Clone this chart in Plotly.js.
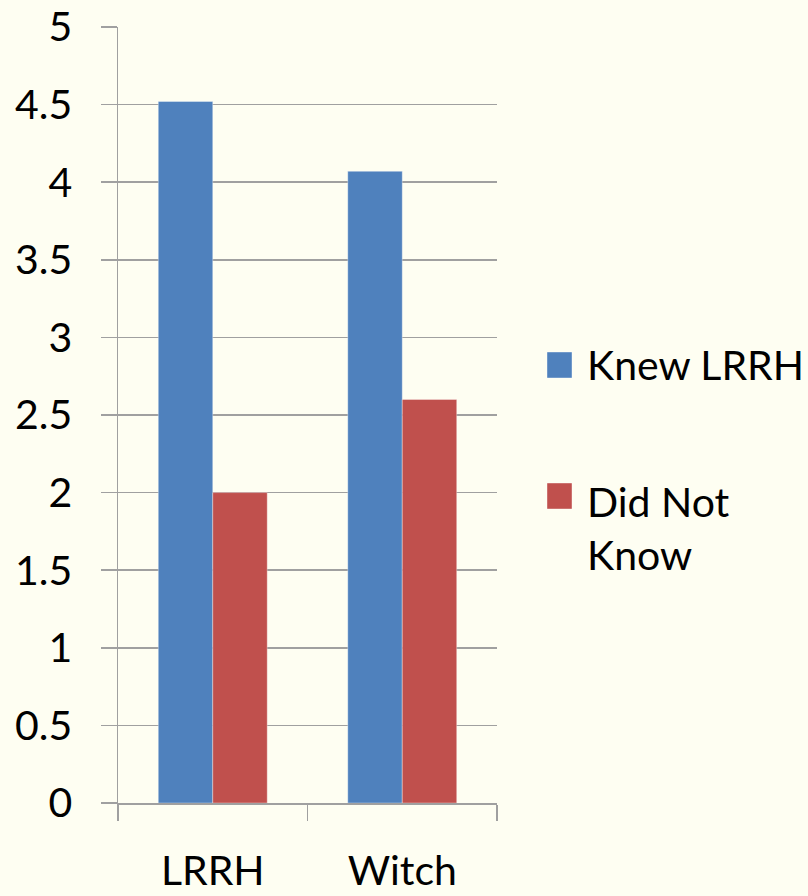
<!DOCTYPE html>
<html>
<head>
<meta charset="utf-8">
<script src="https://cdn.plot.ly/plotly-3.0.1.min.js"></script>
<style>html,body{margin:0;padding:0;background:#fefef2;}</style>
</head>
<body>
<div id="chart" style="width:808px;height:896px;"></div>
<script>
const categories = ['LRRH', 'Witch'];
const knewLRRH = [4.52, 4.07];
const didNotKnow = [2.0, 2.6];
const seriesNames = ['Knew LRRH', 'Did Not<br>Know'];
const seriesColors = ['#4f81bd', '#c0504d'];
const yTicks = [0, 0.5, 1, 1.5, 2, 2.5, 3, 3.5, 4, 4.5, 5];
const yTickLabels = ['0', '0.5', '1', '1.5', '2', '2.5', '3', '3.5', '4', '4.5', '5'];

const W = 808, H = 896;
const M = {l: 118, r: 311, t: 27, b: 93};
const pw = W - M.l - M.r, ph = H - M.t - M.b;
const px = x => (x - M.l) / pw;
const py = y => (H - M.b - y) / ph;

const font = 'Lato, "Open Sans", sans-serif';
const grid = '#a0a0a0';

const traces = [
  {type: 'bar', x: categories, y: knewLRRH, name: seriesNames[0],
   marker: {color: seriesColors[0], line: {color: 'rgba(255,255,255,0.35)', width: 1}}, showlegend: false, hoverinfo: 'skip'},
  {type: 'bar', x: categories, y: didNotKnow, name: seriesNames[1],
   marker: {color: seriesColors[1], line: {color: 'rgba(255,255,255,0.35)', width: 1}}, showlegend: false, hoverinfo: 'skip'}
];

// legend drawn as layout shapes/annotations (large square keys)
const legendKeys = [
  {x0: 547, x1: 572, y0: 352, y1: 378, textY: 364},
  {x0: 547, x1: 572, y0: 483, y1: 509, textY: 528}
];
const shapes = legendKeys.map((k, i) => ({
  type: 'rect', xref: 'paper', yref: 'paper',
  x0: px(k.x0), x1: px(k.x1), y0: py(k.y1), y1: py(k.y0),
  fillcolor: seriesColors[i], line: {color: 'rgba(255,255,255,0.4)', width: 1}
}));
const annotations = legendKeys.map((k, i) => ({
  xref: 'paper', yref: 'paper', x: px(585), y: py(k.textY),
  xanchor: 'left', yanchor: 'middle', align: 'left', showarrow: false,
  text: seriesNames[i], font: {family: font, size: 41, color: '#000'}
}));

const layout = {
  width: W, height: H,
  margin: M,
  paper_bgcolor: '#fefef2', plot_bgcolor: '#fefef2',
  font: {family: font, size: 40, color: '#000'},
  barmode: 'group', bargap: 0.425, bargroupgap: 0,
  showlegend: false,
  xaxis: {
    type: 'category', tickson: 'boundaries', ticks: 'outside', ticklen: 16, tickwidth: 1.5, tickcolor: grid,
    showline: true, linecolor: grid, linewidth: 1.5, showgrid: false,
    tickfont: {family: font, size: 41, color: '#000'}, ticklabelstandoff: 31,
    fixedrange: true
  },
  yaxis: {
    range: [0, 5], tickmode: 'array', tickvals: yTicks, ticktext: yTickLabels,
    ticks: 'outside', ticklen: 16, tickwidth: 1.5, tickcolor: grid,
    showline: true, linecolor: grid, linewidth: 1.5,
    showgrid: true, gridcolor: grid, gridwidth: 1.5, zeroline: false,
    tickfont: {family: font, size: 41, color: '#000'}, ticklabelstandoff: 20,
    fixedrange: true
  },
  shapes: shapes,
  annotations: annotations
};

Plotly.newPlot('chart', traces, layout, {displayModeBar: false, staticPlot: true});
</script>
</body>
</html>
